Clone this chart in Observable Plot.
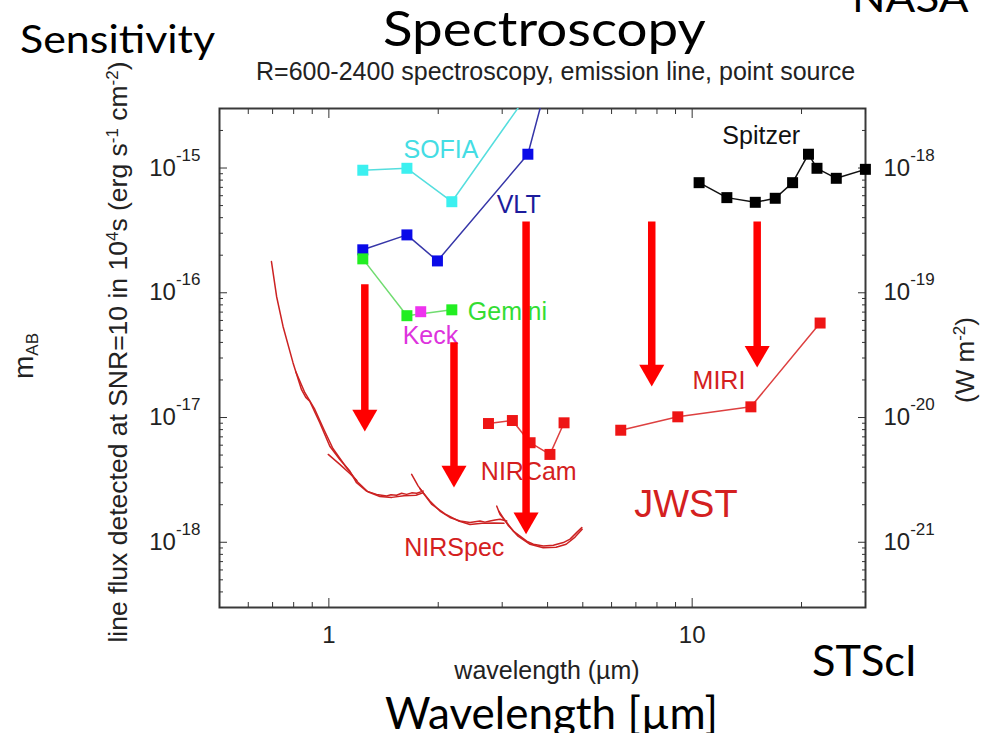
<!DOCTYPE html>
<html><head><meta charset="utf-8">
<script src="https://cdn.jsdelivr.net/npm/d3@7"></script>
<script src="https://cdn.jsdelivr.net/npm/@observablehq/plot@0.6"></script>
<style>
body{margin:0;background:#fff;}
#wrap{position:relative;width:990px;height:733px;overflow:hidden;background:#fff;}
#chart{position:absolute;left:0;top:0;}
.c{position:absolute;white-space:nowrap;font-family:Lato,"Open Sans",sans-serif;color:#000;line-height:1;transform-origin:0 0;}
.h{position:absolute;white-space:nowrap;font-family:"Liberation Sans",Arial,sans-serif;color:#222;line-height:1;}
.sup{font-size:17px;position:relative;top:-0.55em;}
</style></head>
<body><div id="wrap">
<div id="chart"></div>
<div class="c" style="left:20px;top:19px;font-size:38px;transform:scaleX(1.13);">Sensitivity</div>
<div class="c" style="left:383px;top:4px;font-size:48px;transform:scaleX(1.14);">Spectroscopy</div>
<div class="c" style="left:852px;top:-23px;font-size:40px;transform:scaleX(1.1);">NASA</div>
<div class="c" style="left:812px;top:639px;font-size:42px;transform:scaleX(1.03);">STScI</div>
<div class="c" style="left:385px;top:690px;font-size:44px;">Wavelength [µm]</div>
<div class="h" style="left:256px;top:59px;font-size:25px;">R=600-2400 spectroscopy, emission line, point source</div>
<div class="h" style="left:397px;width:300px;text-align:center;top:658px;font-size:25px;">wavelength (µm)</div>
<div class="h" style="left:118px;top:352px;font-size:26.5px;transform:translate(-50%,-50%) rotate(-90deg);">line flux detected at SNR=10 in 10<span class="sup">4</span>s (erg s<span class="sup">-1</span> cm<span class="sup">-2</span>)</div>
<div class="h" style="left:24px;top:356px;font-size:28px;transform:translate(-50%,-50%) rotate(-90deg);">m<span style="font-size:17px;position:relative;top:0.3em;">AB</span></div>
<div class="h" style="left:965px;top:360px;font-size:26px;transform:translate(-50%,-50%) rotate(-90deg);">(W m<span class="sup">-2</span>)</div>
</div>
<script>
// ---- data (wavelength in µm, line flux in erg s^-1 cm^-2) ----
const sofiaX = [1.24, 1.64, 2.18, 3.8];
const sofiaY = [9.6e-16, 9.95e-16, 5.37e-16, 5.3e-15];
const vltX = [1.24, 1.64, 1.99, 3.53, 4.2];
const vltY = [2.21e-16, 2.91e-16, 1.80e-16, 1.29e-15, 8.6e-15];
const geminiX = [1.24, 1.64, 2.18];
const geminiY = [1.87e-16, 6.55e-17, 7.3e-17];
const keckX = [1.79];
const keckY = [7.05e-17];
const spitzerX = [10.45, 12.46, 14.92, 16.93, 18.9, 20.9, 22.06, 24.93, 29.98];
const spitzerY = [7.63e-16, 5.79e-16, 5.31e-16, 5.72e-16, 7.63e-16, 1.29e-15, 9.95e-16, 8.27e-16, 9.76e-16];
const nircamX = [2.75, 3.2, 3.58, 4.06, 4.44];
const nircamY = [8.95e-18, 9.46e-18, 6.28e-18, 5.06e-18, 9.07e-18];
const miriX = [6.36, 9.13, 14.51, 22.5];
const miriY = [7.91e-18, 1.013e-17, 1.218e-17, 5.72e-17];

// NIRSpec sensitivity curves (three gratings, each drawn twice)
const nsG1aX = [0.695, 0.718, 0.748, 0.797, 0.841, 0.864, 0.886, 0.944, 1.006, 1.072, 1.142, 1.192, 1.27, 1.353, 1.442, 1.482, 1.536, 1.586, 1.637, 1.69, 1.745, 1.818];
const nsG1aY = [1.78e-16, 9.34e-17, 5.37e-17, 2.74e-17, 1.67e-17, 1.45e-17, 1.35e-17, 9.07e-18, 5.89e-18, 4.61e-18, 3.72e-18, 3.0e-18, 2.57e-18, 2.42e-18, 2.35e-18, 2.40e-18, 2.38e-18, 2.47e-18, 2.42e-18, 2.49e-18, 2.47e-18, 2.57e-18];
const nsG1bX = [0.811, 0.859, 0.915, 0.969, 1.026, 1.107, 1.202, 1.28, 1.382, 1.491, 1.609, 1.737, 1.815];
const nsG1bY = [2.33e-17, 1.58e-17, 1.16e-17, 8.02e-18, 5.65e-18, 4.13e-18, 3.02e-18, 2.54e-18, 2.33e-18, 2.29e-18, 2.36e-18, 2.38e-18, 2.49e-18];
const nsG1cX = [0.996, 1.072, 1.142, 1.194];
const nsG1cY = [5.06e-18, 4.21e-18, 3.56e-18, 3.13e-18];
const nsG2aX = [1.69, 1.762, 1.818, 1.897, 2.022, 2.154, 2.296, 2.446, 2.606, 2.69, 2.777, 2.867, 2.959, 3.087];
const nsG2aY = [3.5e-18, 2.82e-18, 2.5e-18, 2.14e-18, 1.78e-18, 1.58e-18, 1.48e-18, 1.44e-18, 1.48e-18, 1.45e-18, 1.48e-18, 1.51e-18, 1.53e-18, 1.48e-18];
const nsG2bX = [1.78, 1.921, 2.087, 2.266, 2.446, 2.64, 2.849, 3.035];
const nsG2bY = [2.7e-18, 2.01e-18, 1.69e-18, 1.49e-18, 1.39e-18, 1.42e-18, 1.43e-18, 1.42e-18];
const nsG3aX = [2.897, 2.959, 3.087, 3.219, 3.358, 3.504, 3.655, 3.894, 4.149, 4.42, 4.612, 4.813, 4.968];
const nsG3aY = [1.95e-18, 1.67e-18, 1.44e-18, 1.23e-18, 1.12e-18, 1.02e-18, 9.64e-19, 9.34e-19, 9.46e-19, 9.94e-19, 1.06e-18, 1.2e-18, 1.31e-18];
const nsG3bX = [2.94, 3.112, 3.317, 3.58, 3.89, 4.22, 4.5, 4.76, 4.98];
const nsG3bY = [1.77e-18, 1.37e-18, 1.12e-18, 9.64e-19, 9.04e-19, 9.12e-19, 9.64e-19, 1.10e-18, 1.27e-18];

// labels
const labelText = ["SOFIA", "VLT", "Gemini", "Keck", "Spitzer", "MIRI", "NIRCam", "NIRSpec", "JWST"];
const labelX = [2.035, 3.33, 3.10, 1.904, 15.49, 11.85, 3.55, 2.214, 9.61];
const labelY = [1.39e-15, 5.06e-16, 7.05e-17, 4.47e-17, 1.81e-15, 1.98e-17, 3.66e-18, 8.95e-19, 2.0e-18];

// improvement arrows
const arrowX = [1.256, 2.21, 3.49, 7.74, 15.1];
const arrowTop = [1.16e-16, 3.98e-17, 3.70e-16, 3.70e-16, 3.70e-16];
const arrowTip = [7.73e-18, 2.75e-18, 1.16e-18, 1.77e-17, 2.51e-17];

// axis ticks
const xMajor = [1, 10];
const yMajor = [1e-18, 1e-17, 1e-16, 1e-15];

// ---- styles ----
const RED = "#d42020";
const series = [
  {name: "SOFIA", x: sofiaX, y: sofiaY, line: "#55dede", fill: "#3cf0f0"},
  {name: "VLT", x: vltX, y: vltY, line: "#3636a8", fill: "#0a0ae8"},
  {name: "Gemini", x: geminiX, y: geminiY, line: "#70dc70", fill: "#22ee22"},
  {name: "Keck", x: keckX, y: keckY, line: "#ee33ee", fill: "#ee33ee"},
  {name: "Spitzer", x: spitzerX, y: spitzerY, line: "#111", fill: "#000"},
  {name: "NIRCam", x: nircamX, y: nircamY, line: "#dd4040", fill: "#ee1515"},
  {name: "MIRI", x: miriX, y: miriY, line: "#dd4040", fill: "#ee1515"}
];
const labelColor = {SOFIA: "#44dde4", VLT: "#1c1c9c", Gemini: "#33dd33", Keck: "#dd33dd", Spitzer: "#111", MIRI: RED, NIRCam: RED, NIRSpec: RED, JWST: RED};

const nirspec = [
  [nsG1aX, nsG1aY], [nsG1bX, nsG1bY], [nsG1cX, nsG1cY],
  [nsG2aX, nsG2aY], [nsG2bX, nsG2bY], [nsG3aX, nsG3aY], [nsG3bX, nsG3bY]
].flatMap(([xs, ys], k) => xs.map((x, i) => ({seg: k, x, y: ys[i]})));

const labels = labelText.map((t, i) => ({t, x: labelX[i], y: labelY[i]}));
const arrows = arrowX.map((x, i) => ({x, top: arrowTop[i], tip: arrowTip[i]}));

const yTicksAll = d3.scaleLog().domain([3e-19, 3e-15]).ticks();
const yMinor = yTicksAll.filter(v => !yMajor.some(m => Math.abs(v / m - 1) < 1e-6));
const xTicksAll = d3.scaleLog().domain([0.5, 30]).ticks();
const xMinor = xTicksAll.filter(v => !xMajor.includes(v));

const expFmt = off => d => "10^" + (Math.round(Math.log10(d)) + off);
const AX = "#333";

const marks = [
  Plot.frame({stroke: "#3a3a3a", strokeWidth: 2}),
  Plot.axisX({anchor: "bottom", ticks: xMajor, tickSize: -9, tickPadding: 27, tickFormat: d => String(d), label: null, stroke: AX, fontSize: 24}),
  Plot.axisX({anchor: "bottom", ticks: xMinor, tickSize: -5, tickFormat: () => "", label: null, stroke: AX}),
  Plot.axisX({anchor: "top", ticks: xMajor, tickSize: -9, tickFormat: () => "", label: null, stroke: AX}),
  Plot.axisX({anchor: "top", ticks: xMinor, tickSize: -5, tickFormat: () => "", label: null, stroke: AX}),
  Plot.axisY({anchor: "left", ticks: yMajor, tickSize: -8, tickPadding: 27, tickFormat: expFmt(0), label: null, stroke: AX, fontSize: 24}),
  Plot.axisY({anchor: "left", ticks: yMinor, tickSize: -4, tickFormat: () => "", label: null, stroke: AX}),
  Plot.axisY({anchor: "right", ticks: yMajor, tickSize: -8, tickPadding: 26, tickFormat: expFmt(-3), label: null, stroke: AX, fontSize: 24}),
  Plot.axisY({anchor: "right", ticks: yMinor, tickSize: -4, tickFormat: () => "", label: null, stroke: AX}),
  Plot.line(nirspec, {x: "x", y: "y", z: "seg", stroke: "#cc2222", strokeWidth: 1.5, curve: "linear"})
];
for (const s of series) {
  const rows = s.x.map((x, i) => ({x, y: s.y[i]}));
  marks.push(Plot.line(rows, {x: "x", y: "y", stroke: s.line, strokeWidth: 1.5, clip: true}));
}
for (const s of series) {
  const rows = s.x.map((x, i) => ({x, y: s.y[i]})).filter(d => d.y < 3e-15);
  marks.push(Plot.dot(rows, {x: "x", y: "y", symbol: "square", r: 6.2, fill: s.fill, stroke: "none"}));
}
marks.push(
  Plot.text(labels.filter(d => d.t !== "JWST"), {x: "x", y: "y", text: "t", fill: d => labelColor[d.t], fontSize: 25, textAnchor: "middle"}),
  Plot.text(labels.filter(d => d.t === "JWST"), {x: "x", y: "y", text: "t", fill: RED, fontSize: 38, textAnchor: "middle"}),
  Plot.ruleX(arrows, {x: "x", y1: "top", y2: "tip", stroke: "#ff0000", strokeWidth: 7.5, insetBottom: 12}),
  Plot.dot(arrows, {x: "x", y: "tip", symbol: "triangle", r: 9.3, rotate: 180, fill: "#ff0000", stroke: "none", dy: -14.5})
);

const chart = Plot.plot({
  width: 990, height: 733,
  marginLeft: 219, marginRight: 125, marginTop: 108, marginBottom: 126,
  style: {fontFamily: "'Liberation Sans', Arial, sans-serif", fontSize: "24px", color: "#222", background: "transparent", overflow: "visible"},
  x: {type: "log", domain: [0.5, 30], axis: null},
  y: {type: "log", domain: [3e-19, 3e-15], axis: null},
  color: {type: "identity"},
  marks
});

// superscript exponents in tick labels
const NS = "http://www.w3.org/2000/svg";
chart.querySelectorAll("text").forEach(t => {
  const m = /^10\^(-?\d+)$/.exec(t.textContent);
  if (!m) return;
  t.textContent = "";
  const a = document.createElementNS(NS, "tspan");
  a.textContent = "10";
  const b = document.createElementNS(NS, "tspan");
  b.setAttribute("dy", "-15");
  b.setAttribute("font-size", "17");
  b.textContent = m[1];
  t.append(a, b);
});
document.getElementById("chart").append(chart);
</script>
</body></html>
